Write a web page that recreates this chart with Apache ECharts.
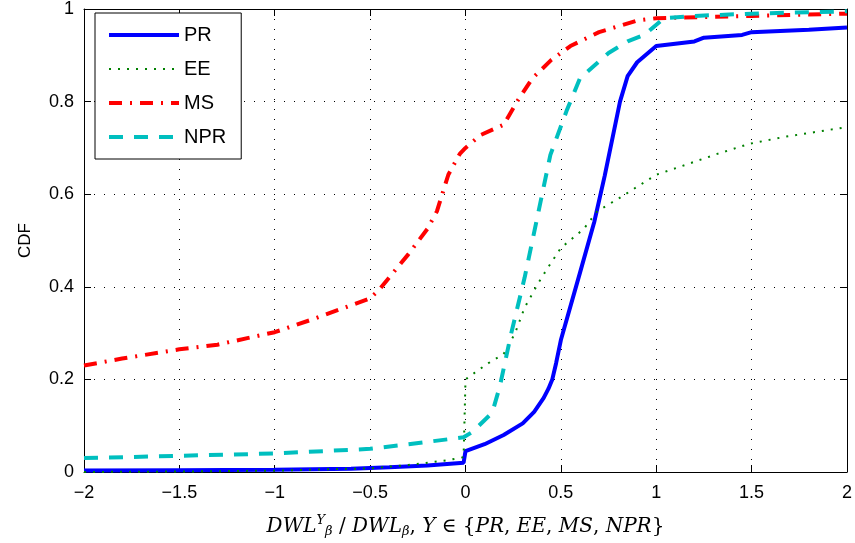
<!DOCTYPE html>
<html>
<head>
<meta charset="utf-8">
<script src="https://cdn.jsdelivr.net/npm/echarts@6/dist/echarts.min.js"></script>
<style>
    html, body { margin: 0; padding: 0; background: #fff; }
    #chart { width: 855px; height: 543px; }
</style>
</head>
<body>
<div id="chart"></div>
<script>
// values: [x, CDF]
const seriesNames = ['PR', 'EE', 'MS', 'NPR'];
const prData = [[-2,0.003],[-1.5,0.004],[-1,0.005],[-0.6,0.007],[-0.4,0.01],[-0.2,0.014],[-0.01,0.02],[0,0.045],[0.1,0.06],[0.2,0.08],[0.3,0.105],[0.36,0.13],[0.41,0.16],[0.435,0.18],[0.455,0.2],[0.475,0.235],[0.5,0.285],[0.6,0.43],[0.675,0.54],[0.73,0.64],[0.81,0.8],[0.85,0.855],[0.9,0.885],[1.0,0.92],[1.2,0.93],[1.25,0.938],[1.45,0.944],[1.5,0.95],[1.8,0.955],[2,0.96]];
const eeData = [[-2,0],[-1.5,0.001],[-1,0.003],[-0.5,0.008],[-0.3,0.015],[-0.1,0.025],[-0.01,0.032],[0,0.2],[0.05,0.215],[0.12,0.235],[0.2,0.255],[0.26,0.3],[0.31,0.355],[0.38,0.407],[0.43,0.44],[0.5,0.484],[0.62,0.525],[0.69,0.563],[0.8,0.59],[1.0,0.642],[1.2,0.67],[1.32,0.687],[1.49,0.709],[1.675,0.724],[2,0.745]];
const msData = [[-2,0.23],[-1.8,0.245],[-1.5,0.265],[-1.3,0.275],[-1,0.302],[-0.8,0.33],[-0.6,0.36],[-0.5,0.375],[-0.45,0.395],[-0.3,0.47],[-0.2,0.525],[-0.15,0.563],[-0.09,0.642],[-0.03,0.687],[0,0.70],[0.08,0.728],[0.2,0.75],[0.27,0.8],[0.35,0.85],[0.45,0.89],[0.55,0.92],[0.7,0.95],[0.9,0.975],[1,0.98],[1.5,0.985],[2,0.99]];
const nprData = [[-2,0.03],[-1.5,0.035],[-1,0.04],[-0.5,0.05],[-0.2,0.065],[-0.01,0.075],[0.03,0.085],[0.06,0.096],[0.14,0.128],[0.18,0.185],[0.24,0.3],[0.31,0.42],[0.38,0.557],[0.445,0.685],[0.53,0.78],[0.6,0.85],[0.75,0.905],[0.85,0.93],[0.94,0.945],[1.04,0.98],[1.2,0.985],[1.5,0.99],[2,0.995]];

const myChart = echarts.init(document.getElementById('chart'));

const tickFont = { fontFamily: 'Liberation Sans, Arial, sans-serif', fontSize: 18, color: '#000' };
const dotted = { type: [1, 9], color: '#000', width: 1 };
const mathFont = 'DejaVu Serif, Liberation Serif, serif';

const colors = { PR: '#0000ff', EE: '#008000', MS: '#ff0000', NPR: '#00bfbf' };
const widths = { PR: 4, EE: 2, MS: 4, NPR: 4 };
const dashes = { PR: 'solid', EE: [2, 7], MS: [13, 8, 2, 8], NPR: [14, 11] };

const option = {
    animation: false,
    backgroundColor: '#fff',
    grid: { left: 84, right: 6, top: 6, bottom: 71 },
    legend: {
        orient: 'vertical',
        left: 95,
        top: 13,
        padding: [12, 15, 12, 12],
        itemGap: 14,
        itemWidth: 70,
        itemHeight: 14,
        borderColor: '#000',
        borderWidth: 1,
        backgroundColor: '#fff',
        itemStyle: { opacity: 0 },
        textStyle: { fontFamily: 'Liberation Sans, Arial, sans-serif', fontSize: 20, color: '#000' },
        data: seriesNames.map(n => ({
            name: n,
            lineStyle: { color: colors[n], width: widths[n], type: dashes[n] }
        }))
    },
    xAxis: [{
        type: 'value',
        min: -2, max: 2, interval: 0.5,
        axisLine: { onZero: false, lineStyle: { color: '#000', width: 1 } },
        axisTick: { inside: true, length: 7, lineStyle: { color: '#000' } },
        axisLabel: Object.assign({ margin: 12, formatter: v => String(v).replace('-', '\u2212') }, tickFont),
        splitLine: { show: true, lineStyle: dotted },
        name: '{i|DWL}{sup|Y}{sub|\u03b2}{n| / }{i|DWL}{sub|\u03b2}{n|, }{i|Y}{n| \u2208 }\u007b{i|PR}{n|, }{i|EE}{n|, }{i|MS}{n|, }{i|NPR}\u007d',
        nameLocation: 'middle',
        nameGap: 42,
        nameTextStyle: {
            fontFamily: mathFont,
            fontSize: 20,
            color: '#000',
            rich: {
                i: { fontFamily: mathFont, fontStyle: 'italic', fontSize: 20 },
                n: { fontFamily: mathFont, fontSize: 20 },
                sup: { fontFamily: mathFont, fontStyle: 'italic', fontSize: 13, padding: [0, 0, 12, 0] },
                sub: { fontFamily: mathFont, fontStyle: 'italic', fontSize: 13, padding: [10, 0, 0, 0] }
            }
        }
    }, {
        type: 'value',
        position: 'top',
        min: -2, max: 2, interval: 0.5,
        axisLine: { onZero: false, lineStyle: { color: '#000', width: 1 } },
        axisTick: { inside: true, length: 7, lineStyle: { color: '#000' } },
        axisLabel: { show: false },
        splitLine: { show: false }
    }],
    yAxis: [{
        type: 'value',
        min: 0, max: 1, interval: 0.2,
        axisLine: { show: true, onZero: false, lineStyle: { color: '#000', width: 1 } },
        axisTick: { show: true, inside: true, length: 7, lineStyle: { color: '#000' } },
        axisLabel: Object.assign({ margin: 10 }, tickFont),
        splitLine: { show: true, lineStyle: dotted },
        name: 'CDF',
        nameLocation: 'middle',
        nameGap: 50,
        nameTextStyle: { fontFamily: 'Liberation Sans, Arial, sans-serif', fontSize: 17, color: '#000' }
    }, {
        type: 'value',
        position: 'right',
        min: 0, max: 1, interval: 0.2,
        axisLine: { show: true, onZero: false, lineStyle: { color: '#000', width: 1 } },
        axisTick: { show: true, inside: true, length: 7, lineStyle: { color: '#000' } },
        axisLabel: { show: false },
        splitLine: { show: false }
    }],
    series: [
        { name: 'PR', data: prData },
        { name: 'EE', data: eeData },
        { name: 'MS', data: msData },
        { name: 'NPR', data: nprData }
    ].map(s => ({
        name: s.name,
        type: 'line',
        symbol: 'none',
        data: s.data,
        itemStyle: { color: colors[s.name] },
        lineStyle: { color: colors[s.name], width: widths[s.name], type: dashes[s.name] }
    }))
};

option && myChart.setOption(option);
</script>
</body>
</html>
